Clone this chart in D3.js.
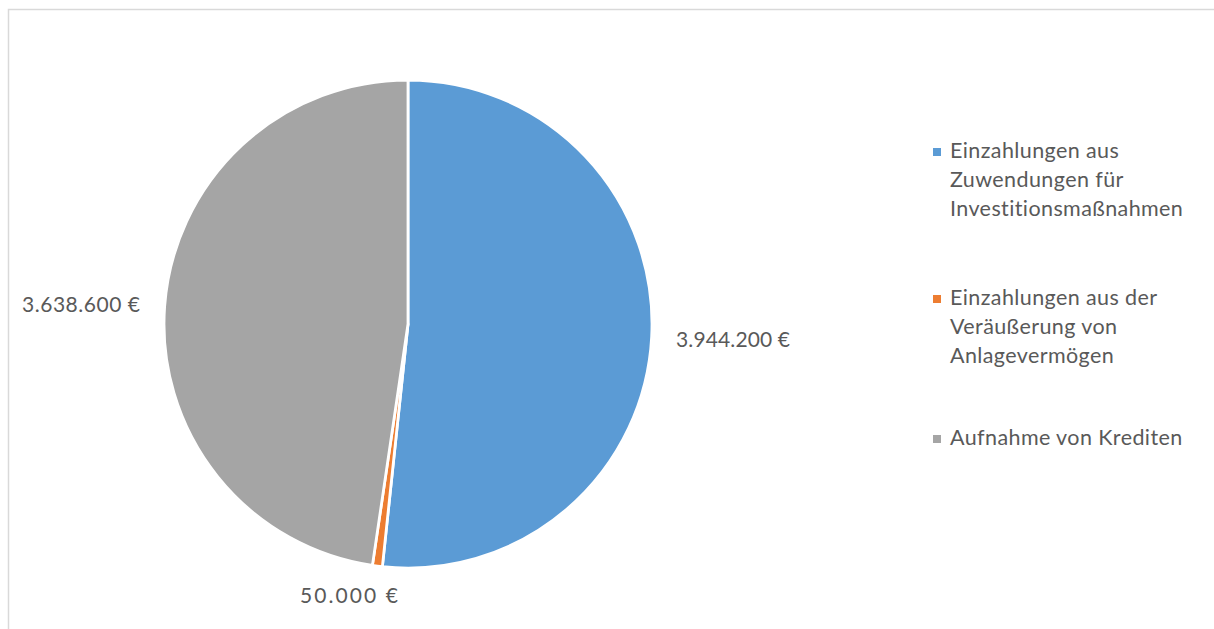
<!DOCTYPE html>
<html><head><meta charset="utf-8">
<script src="https://cdn.jsdelivr.net/npm/d3@7"></script>
<style>body{margin:0;background:#fff;overflow:hidden}text{font-family:Lato,sans-serif;fill:#595959}</style>
</head><body>
<svg id="c" width="1214" height="629"></svg>
<script>
const categories = ["Einzahlungen aus Zuwendungen für Investitionsmaßnahmen","Einzahlungen aus der Veräußerung von Anlagevermögen","Aufnahme von Krediten"];
const legendLines = [["Einzahlungen aus","Zuwendungen für","Investitionsmaßnahmen"],["Einzahlungen aus der","Veräußerung von","Anlagevermögen"],["Aufnahme von Krediten"]];
const values = [3944200, 50000, 3638600];
const valueLabels = ["3.944.200 €","50.000 €","3.638.600 €"];
const colors = ["#5b9bd5","#ed7d31","#a5a5a5"];

const svg = d3.select("#c");
svg.append("rect").attr("x",8.5).attr("y",9.5).attr("width",1220).attr("height",640)
  .attr("fill","none").attr("stroke","#d9d9d9").attr("stroke-width",1.5);

const cx = 408, cy = 324, r = 244;
const pie = d3.pie().sort(null).value(d=>d);
const arcs = pie(values);
const arc = d3.arc().innerRadius(0).outerRadius(r);
const g = svg.append("g").attr("transform",`translate(${cx},${cy})`);
g.selectAll("path").data(arcs).join("path").attr("d",arc)
  .attr("fill",(d,i)=>colors[i]).attr("stroke","#fff").attr("stroke-width",2.8).attr("stroke-linejoin","round");

const labelPos = [[676,347,"start"],[398,603,"end"],[140,312,"end"]];
const labelTexts = valueLabels.map((t,i)=>
  svg.append("text").attr("x",labelPos[i][0]).attr("y",labelPos[i][1]).attr("text-anchor",labelPos[i][2])
    .attr("font-size",21).text(t));
const labelW = [114, 98, 118];
labelTexts.forEach((t,i)=>t.attr("textLength",labelW[i]).attr("lengthAdjust","spacing"));

const legendY = [158,305,445];
legendLines.forEach((lines,i)=>{
  svg.append("rect").attr("x",933).attr("y",legendY[i]-10).attr("width",8).attr("height",8).attr("fill",colors[i]);
  lines.forEach((l,j)=>{
    svg.append("text").attr("x",950).attr("y",legendY[i]+j*29).attr("font-size",21.5).attr("letter-spacing",0.4).text(l);
  });
});
</script>
</body></html>
